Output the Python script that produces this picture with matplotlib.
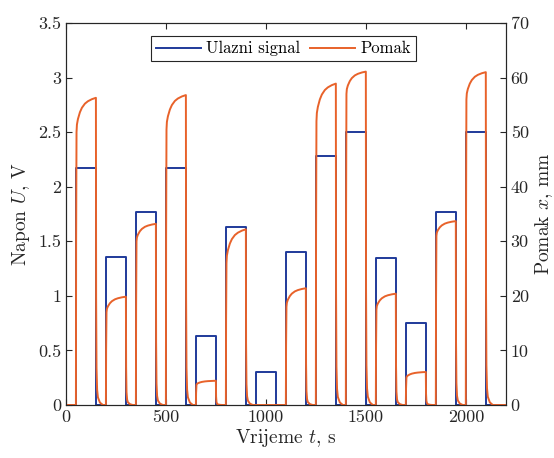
import numpy as np
import matplotlib
matplotlib.use("Agg")
import matplotlib.pyplot as plt

# Pulse timing (s) and input voltage (V)
pulse_start = [50, 200, 350, 500, 650, 800, 950, 1100, 1250, 1400, 1550, 1700, 1850, 2000]
pulse_end = [150, 300, 450, 600, 750, 900, 1050, 1200, 1350, 1500, 1650, 1800, 1950, 2100]
pulse_volt = [2.17, 1.36, 1.77, 2.17, 0.63, 1.63, 0.30, 1.40, 2.28, 2.50, 1.35, 0.75, 1.77, 2.50]

# Displacement (mm): level after the fast jump and level at end of pulse
pomak_knee = [50.0, 17.0, 30.0, 50.5, 3.7, 26.0, 0.0, 18.0, 52.0, 57.0, 17.5, 5.0, 31.0, 56.0]
pomak_end = [56.3, 19.85, 33.2, 56.8, 4.45, 32.2, 0.0, 21.4, 58.9, 61.1, 20.4, 6.05, 33.7, 61.0]

# Response shape (offsets in s, fractions)
fast_t = [0, 1, 3]
fast_frac = [0.0, 0.6, 1.0]
slow_t = [5, 10, 20, 30, 45, 60, 80, 100]
slow_frac = [0.22, 0.38, 0.58, 0.71, 0.83, 0.90, 0.96, 1.0]
decay_t = [0, 1, 3, 6, 10, 20, 35]
decay_frac = [1.0, 0.35, 0.12, 0.05, 0.025, 0.008, 0.0]

t_end = 2200

plt.rcParams["font.family"] = "cmr10"
plt.rcParams["mathtext.fontset"] = "cm"
plt.rcParams["axes.formatter.use_mathtext"] = True
plt.rcParams["font.size"] = 13

# Input signal as steps
sig_t = [0]
sig_u = [0]
for s, e, u in zip(pulse_start, pulse_end, pulse_volt):
    sig_t += [s, e]
    sig_u += [u, 0]
sig_t.append(t_end)
sig_u.append(0)

# Displacement trace
pom_t = [0]
pom_x = [0]
for s, e, k, f in zip(pulse_start, pulse_end, pomak_knee, pomak_end):
    for dt, fr in zip(fast_t, fast_frac):
        pom_t.append(s + dt)
        pom_x.append(k * fr)
    for dt, fr in zip(slow_t, slow_frac):
        pom_t.append(s + dt)
        pom_x.append(k + (f - k) * fr)
    for dt, fr in zip(decay_t, decay_frac):
        pom_t.append(e + dt)
        pom_x.append(f * fr)
pom_t.append(t_end)
pom_x.append(0)

blue = "#1f3a9a"
orange = "#e8622a"
grey = "#262626"

fig = plt.figure(figsize=(5.54, 4.58), dpi=100)
ax = fig.add_axes([0.119, 0.1157, 0.794, 0.834])
ax2 = ax.twinx()

l1, = ax.plot(sig_t, sig_u, drawstyle="steps-post", color=blue, lw=1.4, label="Ulazni signal")
l2, = ax2.plot(pom_t, pom_x, color=orange, lw=1.4, label="Pomak")

ax.set_xlim(0, t_end)
ax.set_ylim(0, 3.5)
ax2.set_ylim(0, 70)

ax.set_xticks([0, 500, 1000, 1500, 2000])
ax.set_xticklabels(["0", "500", "1000", "1500", "2000"])
ax.set_yticks([0, 0.5, 1, 1.5, 2, 2.5, 3, 3.5])
ax.set_yticklabels(["0", "0.5", "1", "1.5", "2", "2.5", "3", "3.5"])
ax2.set_yticks([0, 10, 20, 30, 40, 50, 60, 70])
ax2.set_yticklabels(["0", "10", "20", "30", "40", "50", "60", "70"])

ax.tick_params(axis="x", direction="in", top=True, length=4, colors=grey)
ax.tick_params(axis="y", direction="in", length=4, colors=grey)
ax2.tick_params(axis="y", direction="in", length=4, colors=grey)
for a in (ax, ax2):
    for sp in a.spines.values():
        sp.set_color(grey)
        sp.set_linewidth(0.8)

ax.set_xlabel("Vrijeme $t$, s", color=grey, fontsize=14, labelpad=1)
ax.set_ylabel("Napon $U$, V", color=grey, fontsize=14, labelpad=4)
ax2.set_ylabel("Pomak $x$, mm", color=grey, fontsize=14, labelpad=3)

leg = ax2.legend([l1, l2], ["Ulazni signal", "Pomak"], loc="upper center",
                 bbox_to_anchor=(0.495, 0.966), borderaxespad=0, ncol=2,
                 fancybox=False, edgecolor=grey, framealpha=1, fontsize=12,
                 handlelength=2.7, columnspacing=0.6, handletextpad=0.3,
                 borderpad=0.3)
leg.get_frame().set_linewidth(0.8)

fig.savefig("out.png", dpi=100)
